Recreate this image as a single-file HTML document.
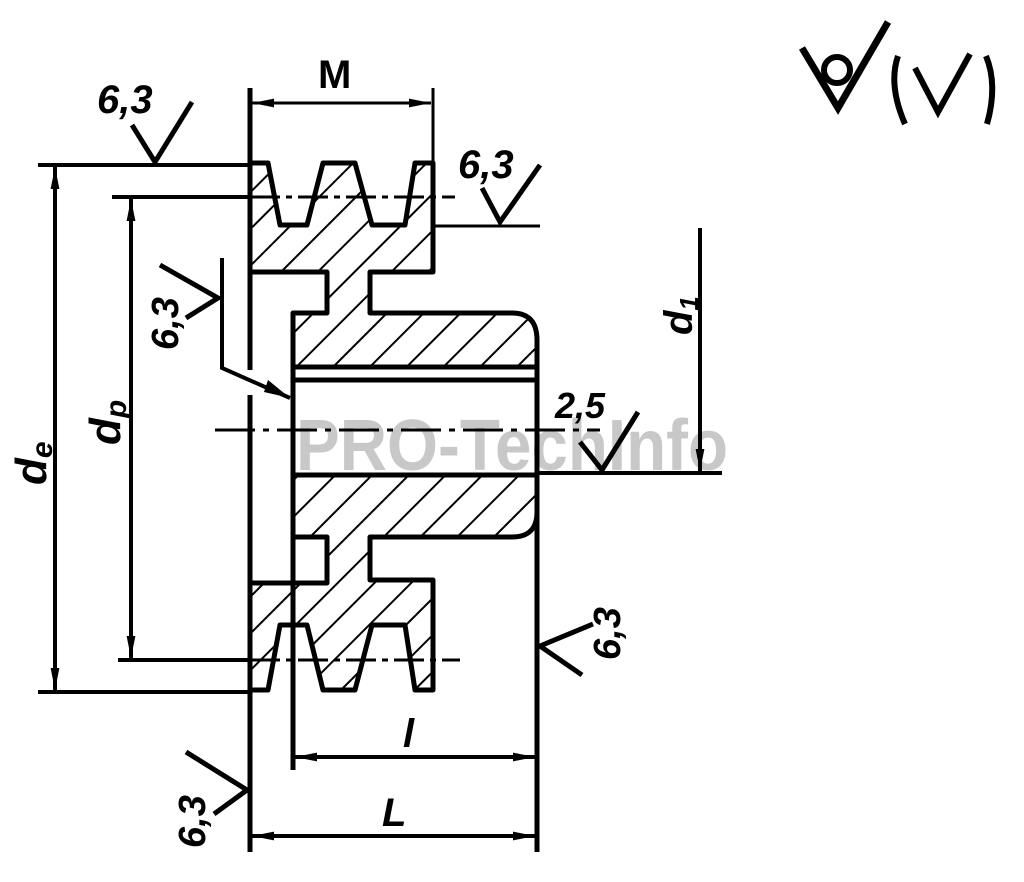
<!DOCTYPE html>
<html><head><meta charset="utf-8"><style>
html,body{margin:0;padding:0;background:#fff}
svg{display:block}
text{font-family:"Liberation Sans",sans-serif;font-style:italic;font-weight:bold;fill:#000}
</style></head><body>
<svg width="1024" height="882" viewBox="0 0 1024 882" xmlns="http://www.w3.org/2000/svg">
<defs>
<pattern id="h" patternUnits="userSpaceOnUse" width="26" height="26" patternTransform="rotate(45)">
<line x1="0" y1="0" x2="0" y2="26" stroke="#000" stroke-width="4"/>
</pattern>
<marker id="a" viewBox="0 0 20 8" refX="20" refY="4" markerWidth="22" markerHeight="9" markerUnits="userSpaceOnUse" orient="auto-start-reverse">
<path d="M0,0 L20,4 L0,8 Z" fill="#000"/>
</marker>
</defs>
<text x="296" y="470" font-size="72" style="font-style:normal;fill:#c8c8c8" textLength="432" lengthAdjust="spacingAndGlyphs">PRO-TechInfo</text>
<g stroke="#000" stroke-width="5" stroke-linejoin="round" fill="url(#h)">
<path d="M250,163 L268,163 L280,225 L307,225 L323,163 L355,163 L372,225 L405,225 L415,163 L433,163 L433,272 L370,272 L370,313 L512,313 Q537,313 537,340 L537,367 L293,367 L293,313 L327,313 L327,272 L250,272 Z"/>
<path d="M293,475 L537,475 L537,512 Q537,537 512,537 L370,537 L370,580 L433,580 L433,690 L415,690 L405,625 L372,625 L355,690 L323,690 L307,625 L280,625 L268,690 L250,690 L250,583 L327,583 L327,537 L293,537 Z"/>
</g>
<g stroke="#000" fill="none">
<line x1="293" y1="380" x2="537" y2="380" stroke-width="5"/>
<line x1="293" y1="367" x2="293" y2="770" stroke-width="5"/>
<line x1="537" y1="340" x2="537" y2="852" stroke-width="5"/>
<line x1="250" y1="88" x2="250" y2="370" stroke-width="5"/>
<line x1="250" y1="395" x2="250" y2="852" stroke-width="5"/>
<line x1="433" y1="88" x2="433" y2="163" stroke-width="3"/>
<line x1="537" y1="473" x2="722" y2="473" stroke-width="4"/>
<line x1="433" y1="226" x2="540" y2="226" stroke-width="3"/>
<line x1="215" y1="430" x2="600" y2="430" stroke-width="3" stroke-dasharray="40,8,6,8"/>
<line x1="252" y1="103" x2="431" y2="103" stroke-width="3" marker-start="url(#a)" marker-end="url(#a)"/>
<line x1="38" y1="165" x2="250" y2="165" stroke-width="4"/>
<line x1="38" y1="692" x2="250" y2="692" stroke-width="4"/>
<line x1="55" y1="167" x2="55" y2="690" stroke-width="4" marker-start="url(#a)" marker-end="url(#a)"/>
<line x1="112" y1="197" x2="250" y2="197" stroke-width="4"/>
<line x1="250" y1="197" x2="455" y2="197" stroke-width="3" stroke-dasharray="30,6,6,6"/>
<line x1="118" y1="660" x2="250" y2="660" stroke-width="4"/>
<line x1="250" y1="660" x2="460" y2="660" stroke-width="3" stroke-dasharray="30,6,6,6"/>
<line x1="131" y1="199" x2="131" y2="658" stroke-width="4" marker-start="url(#a)" marker-end="url(#a)"/>
<line x1="700" y1="228" x2="700" y2="471" stroke-width="4" marker-end="url(#a)"/>
<line x1="295" y1="757" x2="535" y2="757" stroke-width="4" marker-start="url(#a)" marker-end="url(#a)"/>
<line x1="252" y1="836" x2="535" y2="836" stroke-width="4" marker-start="url(#a)" marker-end="url(#a)"/>
<polyline points="132,125 155,162 192,102" stroke-width="5"/>
<polyline points="482,188 500,222 540,165" stroke-width="5"/>
<polyline points="222,258 222,368 290,398" stroke-width="4"/>
<polyline points="160,265 218,298 186,318" stroke-width="5"/>
<polyline points="580,442 602,470 638,412" stroke-width="5"/>
<polyline points="593,624 540,646 582,675" stroke-width="5"/>
<polyline points="186,752 247,790 214,814" stroke-width="5"/>
<polyline points="802,48 838,108 888,22" stroke-width="7"/>
<circle cx="837" cy="70" r="13" stroke-width="6"/>
<path d="M898,56 Q888,85 905,124" stroke-width="6"/>
<polyline points="915,68 938,112 970,54" stroke-width="6"/>
<path d="M986,56 Q998,85 987,124" stroke-width="6"/>
</g>
<path d="M290,398 L268,380 L264,392 Z" fill="#000"/>
<text x="97" y="113" font-size="40">6,3</text>
<text x="458" y="178" font-size="40">6,3</text>
<text x="318" y="88" font-size="40" style="font-style:normal">M</text>
<text x="555" y="418" font-size="36">2,5</text>
<text x="403" y="747" font-size="40">l</text>
<text x="382" y="826" font-size="40">L</text>
<text transform="translate(178,350) rotate(-90)" font-size="38">6,3</text>
<text transform="translate(620,660) rotate(-90)" font-size="38">6,3</text>
<text transform="translate(205,848) rotate(-90)" font-size="38">6,3</text>
<text transform="translate(46,485) rotate(-90)" font-size="44">d<tspan font-size="30" dy="6">e</tspan></text>
<text transform="translate(120,445) rotate(-90)" font-size="44">d<tspan font-size="30" dy="6">p</tspan></text>
<text transform="translate(692,335) rotate(-90)" font-size="40">d<tspan font-size="26" dy="6">1</tspan></text>
</svg>
</body></html>
